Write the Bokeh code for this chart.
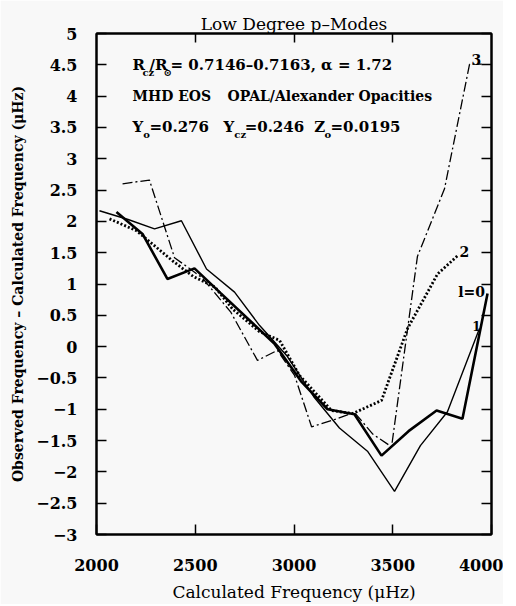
from bokeh.plotting import figure
from bokeh.models import Range1d, LinearAxis, FixedTicker, Label
from bokeh.embed import file_html
from bokeh.resources import INLINE

# ---------------- data ----------------
title_text = "Low Degree p\u2013Modes"
x_label = "Calculated Frequency (\u03bcHz)"
y_label = "Observed Frequency \u2013 Calculated Frequency (\u03bcHz)"

x_ticks = [2000, 2500, 3000, 3500, 4000]
x_tick_labels = ["2000", "2500", "3000", "3500", "4000"]
y_ticks = [-3, -2.5, -2, -1.5, -1, -0.5, 0, 0.5, 1, 1.5, 2, 2.5, 3, 3.5, 4, 4.5, 5]
y_tick_labels = ["\u22123", "\u22122.5", "\u22122", "\u22121.5", "\u22121", "\u22120.5", "0",
                 "0.5", "1", "1.5", "2", "2.5", "3", "3.5", "4", "4.5", "5"]

# l = 0 (thick solid)
freq_l0 = [2101, 2233, 2359, 2496, 2630, 2765, 2900, 3035, 3170, 3306, 3443, 3580, 3722, 3853, 3980]
diff_l0 = [2.15, 1.80, 1.08, 1.25, 0.85, 0.45, 0.05, -0.55, -1.00, -1.08, -1.74, -1.35, -1.02, -1.15, 0.85]

# l = 1 (thin solid)
freq_l1 = [2015, 2160, 2294, 2430, 2557, 2699, 2825, 2965, 3100, 3230, 3372, 3509, 3640, 3777, 3939]
diff_l1 = [2.17, 2.03, 1.88, 2.01, 1.24, 0.87, 0.34, -0.15, -0.80, -1.30, -1.67, -2.31, -1.58, -1.04, 0.29]

# l = 2 (heavy dotted)
freq_l2 = [2066, 2203, 2385, 2490, 2600, 2689, 2825, 2927, 3028, 3190, 3296, 3443, 3575, 3727, 3828]
diff_l2 = [2.04, 1.85, 1.37, 1.12, 0.95, 0.60, 0.24, 0.10, -0.46, -1.02, -1.07, -0.86, 0.29, 1.16, 1.45]

# l = 3 (dash-dot)
freq_l3 = [2132, 2268, 2395, 2535, 2680, 2815, 2916, 3003, 3089, 3200, 3306, 3400, 3494, 3625, 3762, 3889, 3950]
diff_l3 = [2.60, 2.66, 1.42, 1.10, 0.55, -0.22, -0.06, -0.46, -1.28, -1.17, -1.05, -1.40, -1.60, 1.44, 2.52, 4.51, 4.51]

curve_labels = ["3", "2", "l=0", "1"]

note_line1 = ["R", "cz", "/R", "\u2299", "= 0.7146\u20130.7163, \u03b1 = 1.72"]
note_line2 = ["MHD EOS", "OPAL/Alexander Opacities"]
note_line3 = ["Y", "o", "=0.276", "Y", "cz", "=0.246", "Z", "o", "=0.0195"]

# ---------------- figure ----------------
BG = "#f8f8f8"
SERIF = "DejaVu Serif"

p = figure(frame_width=395, frame_height=501,
           min_border_left=96, min_border_right=12, min_border_top=33, min_border_bottom=62,
           x_range=Range1d(2000, 4000), y_range=Range1d(-3, 5),
           output_backend="svg", toolbar_location=None,
           background_fill_color=BG, border_fill_color=BG,
           title=title_text)
p.title.align = "center"
p.title.text_font = SERIF
p.title.text_font_size = "17px"
p.title.text_font_style = "normal"
p.title.text_color = "black"
p.title.standoff = 0
p.title.offset = 0
try:
    p.title.padding = (0, 0, 10, 0)
except Exception:
    pass

p.grid.visible = False
p.outline_line_color = "black"
p.outline_line_width = 2

xa = p.xaxis[0]
xa.ticker = FixedTicker(ticks=x_ticks)
xa.major_label_overrides = {t: s for t, s in zip(x_ticks, x_tick_labels)}
ya = p.yaxis[0]
ya.ticker = FixedTicker(ticks=y_ticks)
ya.major_label_overrides = {t: s for t, s in zip(y_ticks, y_tick_labels)}

for ax in (xa, ya):
    ax.axis_line_width = 2
    ax.major_tick_in = 10
    ax.major_tick_out = 0
    ax.major_tick_line_width = 1.5
    ax.minor_tick_line_color = None
    ax.major_label_text_font = SERIF
    ax.major_label_text_font_style = "bold"
    ax.major_label_text_color = "black"
    ax.axis_label_text_color = "black"
    ax.axis_label_text_font = SERIF

xa.major_label_text_font_size = "16px"
xa.major_label_standoff = 24
xa.axis_label = x_label
xa.axis_label_text_font_size = "17px"
xa.axis_label_text_font_style = "normal"
xa.axis_label_standoff = 8

ya.major_label_text_font_size = "16px"
ya.major_label_standoff = 19
ya.axis_label = y_label
ya.axis_label_text_font_size = "14px"
ya.axis_label_text_font_style = "bold"
ya.axis_label_standoff = 7

top = LinearAxis(ticker=FixedTicker(ticks=x_ticks[1:-1]), major_tick_in=9, major_tick_out=0,
                 axis_line_width=2, major_tick_line_width=1.5, minor_tick_line_color=None,
                 major_label_text_color=None, major_label_text_alpha=0, major_label_standoff=0)
p.add_layout(top, "above")
right = LinearAxis(ticker=FixedTicker(ticks=y_ticks), major_tick_in=10, major_tick_out=0,
                   axis_line_width=2, major_tick_line_width=1.5, minor_tick_line_color=None,
                   major_label_text_color=None, major_label_text_alpha=0, major_label_standoff=0)
p.add_layout(right, "right")

# curves
p.line(freq_l1, diff_l1, line_color="black", line_width=1.4)
p.line(freq_l3, diff_l3, line_color="black", line_width=1.3, line_dash="10 3 2 3")
p.line(freq_l2, diff_l2, line_color="black", line_width=2.8, line_dash="2 2")
p.line(freq_l0, diff_l0, line_color="black", line_width=2.6)

def lab(x, y, t, size="15px", style="bold", align="left", baseline="middle"):
    p.add_layout(Label(x=x, y=y, text=t, text_font=SERIF, text_font_size=size,
                       text_font_style=style, text_align=align, text_baseline=baseline,
                       text_color="black"))

# curve labels
lab(3924, 4.59, curve_labels[0], size="14px", align="center")
lab(3863, 1.52, curve_labels[1], size="14px", align="center")
lab(3899, 0.88, curve_labels[2], size="14px", align="center")
lab(3924, 0.33, curve_labels[3], size="12px", align="center")

# notes
SUB = "10px"
d = -0.12
lab(2182, 4.5, note_line1[0])
lab(2233, 4.5 + d, note_line1[1], size=SUB)
lab(2268, 4.5, note_line1[2])
lab(2339, 4.5 + d, note_line1[3], size=SUB)
lab(2375, 4.5, note_line1[4])

lab(2182, 4.0, note_line2[0], size="14px")
lab(2663, 4.0, note_line2[1], size="14px")

lab(2182, 3.5, note_line3[0])
lab(2237, 3.5 + d, note_line3[1], size=SUB)
lab(2268, 3.5, note_line3[2])
lab(2643, 3.5, note_line3[3])
lab(2698, 3.5 + d, note_line3[4], size=SUB)
lab(2750, 3.5, note_line3[5])
lab(3103, 3.5, note_line3[6])
lab(3154, 3.5 + d, note_line3[7], size=SUB)
lab(3185, 3.5, note_line3[8])

html = file_html(p, INLINE)
html = html.replace("<body>", '<body style="background:#f8f8f8">', 1)
open("out.html", "w").write(html)
